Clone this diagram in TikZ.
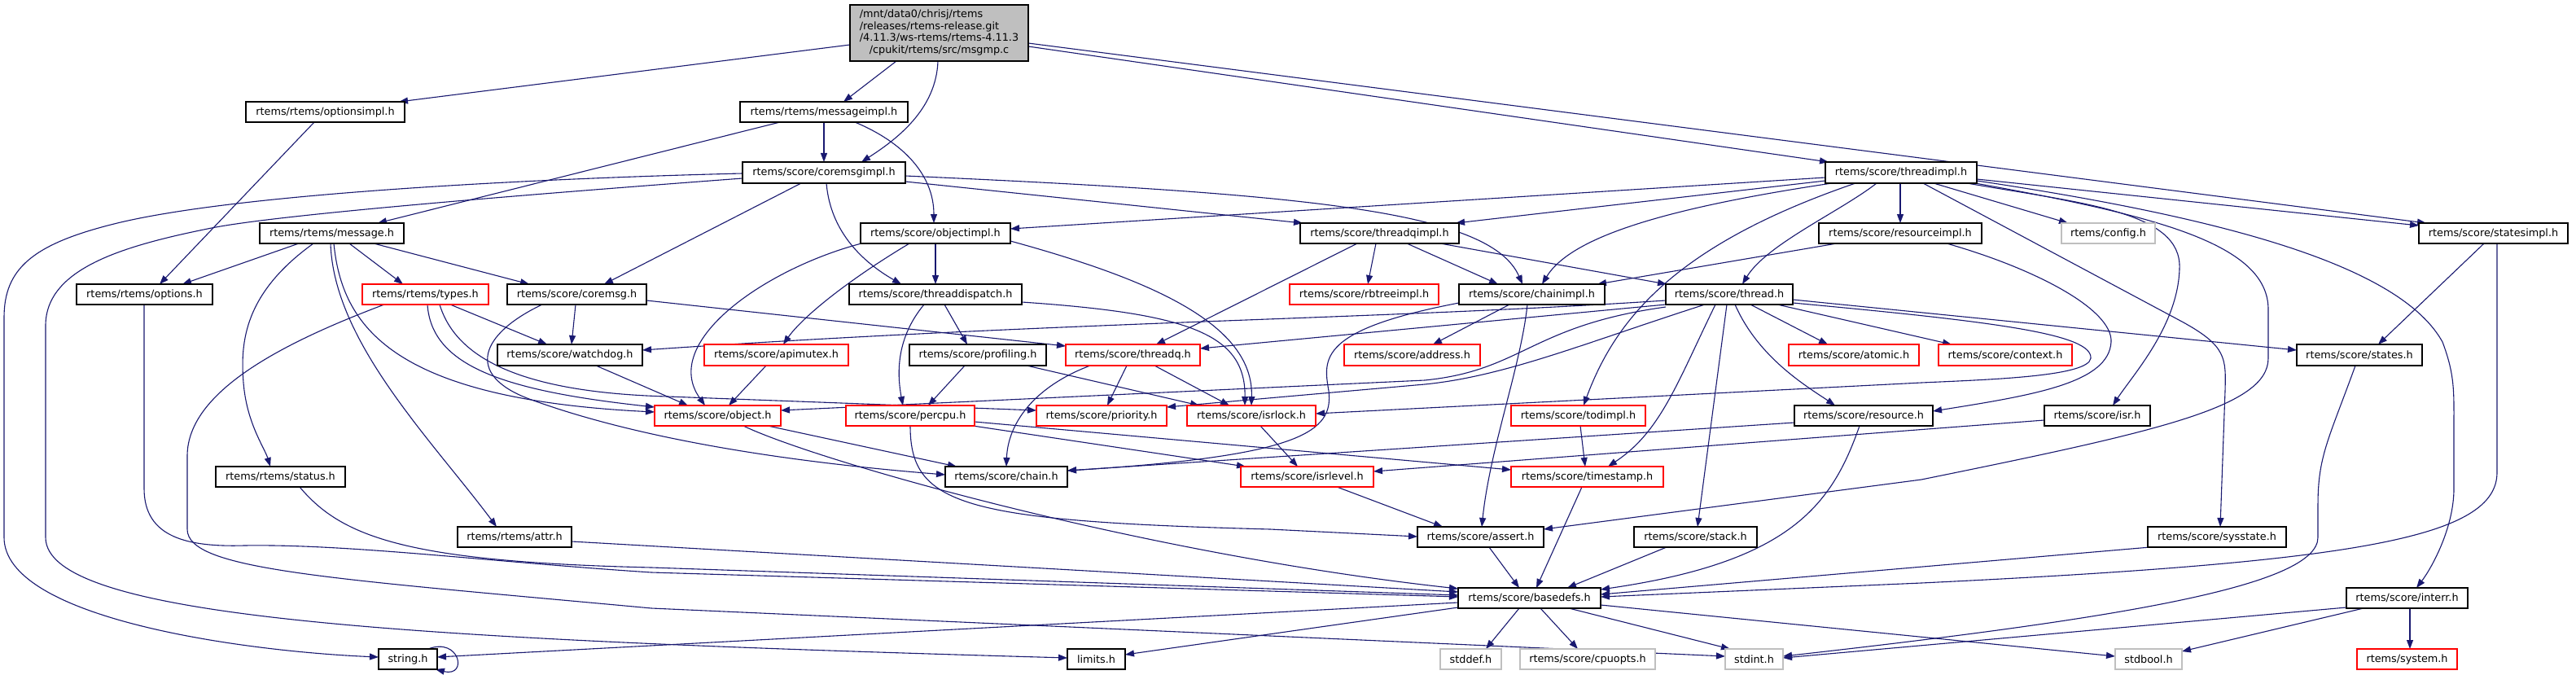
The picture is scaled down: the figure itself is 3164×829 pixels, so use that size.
\documentclass[tikz,border=0pt]{standalone}
\usepackage{fontspec}
\setmainfont{DejaVu Sans}
\usetikzlibrary{arrows.meta}
\definecolor{eb}{HTML}{191970}
\definecolor{redb}{HTML}{FF0000}
\definecolor{grayb}{HTML}{BFBFBF}
\definecolor{rootgray}{HTML}{BFBFBF}
\pgfdeclarelayer{bg}
\pgfsetlayers{bg,main}
\newcommand\ft{\fontsize{12.8pt}{14.7pt}\selectfont}
\tikzset{
  nd/.style={draw=black,line width=1.3pt,fill=white,inner sep=0pt,outer sep=0pt,font=\ft,text=black},
  rn/.style={nd,draw=redb},
  gn/.style={nd,draw=grayb},
  e/.style={draw=eb,line width=1.1pt,-{Triangle[length=11pt,width=8pt]}},
}
\newcommand\mknode[7][nd]{\node[#1,minimum width={(#4-#3)*1pt},minimum height={(#6-#5)*1pt}] (#2) at ({(#3+#4)/2},{(#5+#6)/2}) {#7};}
\begin{document}
\begin{tikzpicture}[x=1pt,y=-1pt]
\begin{pgfonlayer}{bg}
\fill[white] (0,0) rectangle (3164,829);
\end{pgfonlayer}
\useasboundingbox (0,0) rectangle (3164,829);
% row 0
\node[nd,fill=rootgray,minimum width=219pt,minimum height=69pt] (root) at (1153.5,40.5)
  {\begin{tabular}{@{}l@{}}/mnt/data0/chrisj/rtems\\/releases/rtems-release.git\\/4.11.3/ws-rtems/rtems-4.11.3\\\multicolumn{1}{@{}c@{}}{/cpukit/rtems/src/msgmp.c}\end{tabular}};
% row 1
\mknode{optimpl}{302}{497}{125}{150}{rtems/rtems/optionsimpl.h}
\mknode{msgimpl}{909}{1115}{125}{150}{rtems/rtems/messageimpl.h}
% row 2
\mknode{cmimpl}{912}{1112}{199}{225}{rtems/score/coremsgimpl.h}
\mknode{thimpl}{2242}{2428}{199}{225}{rtems/score/threadimpl.h}
% row 3
\mknode{msg}{319}{496}{274}{299}{rtems/rtems/message.h}
\mknode{objimpl}{1057}{1241}{274}{299}{rtems/score/objectimpl.h}
\mknode{tqimpl}{1597}{1792}{274}{299}{rtems/score/threadqimpl.h}
\mknode{resimpl}{2234}{2434}{274}{299}{rtems/score/resourceimpl.h}
\mknode[gn]{config}{2532}{2647}{274}{299}{rtems/config.h}
\mknode{stimpl}{2971}{3154}{274}{299}{rtems/score/statesimpl.h}
% row 4
\mknode{options}{94}{261}{349}{374}{rtems/rtems/options.h}
\mknode[rn]{types}{445}{600}{349}{374}{rtems/rtems/types.h}
\mknode{coremsg}{623}{794}{349}{374}{rtems/score/coremsg.h}
\mknode{tdisp}{1043}{1255}{349}{374}{rtems/score/threaddispatch.h}
\mknode[rn]{rbtree}{1584}{1767}{349}{374}{rtems/score/rbtreeimpl.h}
\mknode{chimpl}{1792}{1971}{349}{374}{rtems/score/chainimpl.h}
\mknode{thread}{2046}{2202}{349}{374}{rtems/score/thread.h}
% row 5
\mknode{watchdog}{611}{789}{423}{449}{rtems/score/watchdog.h}
\mknode[rn]{apimutex}{865}{1042}{423}{449}{rtems/score/apimutex.h}
\mknode{profiling}{1117}{1285}{423}{449}{rtems/score/profiling.h}
\mknode[rn]{threadq}{1309}{1474}{423}{449}{rtems/score/threadq.h}
\mknode[rn]{address}{1651}{1818}{423}{449}{rtems/score/address.h}
\mknode[rn]{atomic}{2197}{2357}{423}{449}{rtems/score/atomic.h}
\mknode[rn]{context}{2381}{2545}{423}{449}{rtems/score/context.h}
\mknode{states}{2821}{2975}{423}{449}{rtems/score/states.h}
% row 6
\mknode[rn]{object}{804}{959}{498}{523}{rtems/score/object.h}
\mknode[rn]{percpu}{1039}{1197}{498}{523}{rtems/score/percpu.h}
\mknode[rn]{priority}{1273}{1433}{498}{523}{rtems/score/priority.h}
\mknode[rn]{isrlock}{1458}{1616}{498}{523}{rtems/score/isrlock.h}
\mknode[rn]{todimpl}{1856}{2021}{498}{523}{rtems/score/todimpl.h}
\mknode{resource}{2204}{2374}{498}{523}{rtems/score/resource.h}
\mknode{isr}{2511}{2641}{498}{523}{rtems/score/isr.h}
% row 7
\mknode{status}{265}{424}{573}{598}{rtems/rtems/status.h}
\mknode{chain}{1161}{1311}{573}{598}{rtems/score/chain.h}
\mknode[rn]{isrlevel}{1524}{1687}{573}{598}{rtems/score/isrlevel.h}
\mknode[rn]{timestamp}{1856}{2043}{573}{598}{rtems/score/timestamp.h}
% row 8
\mknode{attr}{562}{702}{647}{672}{rtems/rtems/attr.h}
\mknode{assert}{1741}{1896}{647}{672}{rtems/score/assert.h}
\mknode{stack}{2007}{2158}{647}{672}{rtems/score/stack.h}
\mknode{sysstate}{2638}{2808}{647}{672}{rtems/score/sysstate.h}
% row 9
\mknode{basedefs}{1791}{1966}{722}{747}{rtems/score/basedefs.h}
\mknode{interr}{2882}{3031}{722}{747}{rtems/score/interr.h}
% row 10
\mknode{string}{465}{537}{797}{822}{string.h}
\mknode{limits}{1311}{1382}{797}{822}{limits.h}
\mknode[gn]{stddef}{1769}{1844}{797}{822}{stddef.h}
\mknode[gn]{cpuopts}{1867}{2033}{797}{822}{rtems/score/cpuopts.h}
\mknode[gn]{stdint}{2119}{2190}{797}{822}{stdint.h}
\mknode[gn]{stdbool}{2598}{2680}{797}{822}{stdbool.h}
\mknode[rn]{system}{2895}{3018}{797}{822}{rtems/system.h}

\begin{pgfonlayer}{bg}
% root
\draw[e] (root.west |- 0,55) -- (optimpl.north -| 490,0);
\draw[e] (root.south -| 1101,0) -- (msgimpl.north -| 1036,0);
\draw[e] (root.south -| 1152,0) .. controls (1150,135) and (1100,172) .. (cmimpl.north -| 1058,0);
\draw[e] (root.east |- 0,57) -- (thimpl.north -| 2246,0);
\draw[e] (root.east |- 0,53) -- (stimpl.north -| 2980,0);
\draw[e] (thimpl.east |- 0,220) -- (stimpl.west |- 0,277);
% messageimpl, optionsimpl
\draw[e] (msgimpl.south -| 958,0) -- (msg.north -| 464,0);
\draw[e] (msgimpl.south -| 1012,0) -- (cmimpl.north -| 1012,0);
\draw[e] (msgimpl.south -| 1050,0) .. controls (1110,175) and (1147,215) .. (objimpl.north -| 1147,0);
\draw[e] (optimpl.south -| 386,0) -- (options.north -| 196,0);
% coremsgimpl
\draw[e] (cmimpl.west |- 0,213) .. controls (700,218) and (300,235) .. (140,275) .. controls (40,300) and (5,330) .. (5,390) -- (5,660) .. controls (5,760) and (300,800) .. (string.west |- 0,807);
\draw[e] (cmimpl.west |- 0,219) .. controls (700,235) and (350,262) .. (260,280) .. controls (150,302) and (56,330) .. (56,400) -- (56,660) .. controls (56,760) and (500,785) .. (limits.west |- 0,808);
\draw[e] (cmimpl.south -| 984,0) -- (coremsg.north -| 742,0);
\draw[e] (cmimpl.south -| 1015,0) .. controls (1020,285) and (1060,322) .. (tdisp.north -| 1107,0);
\draw[e] (cmimpl.east |- 0,223) -- (tqimpl.north -| 1600,0);
\draw[e] (cmimpl.east |- 0,216) .. controls (1600,238) and (1830,258) .. (chimpl.north -| 1870,0);
% threadimpl
\draw[e] (thimpl.west |- 0,218) -- (objimpl.east |- 0,281);
\draw[e] (thimpl.west |- 0,222) -- (tqimpl.north -| 1788,0);
\draw[e] (thimpl.south -| 2250,0) .. controls (2050,255) and (1930,290) .. (chimpl.north -| 1894,0);
\draw[e] (thimpl.south -| 2279,0) .. controls (2060,300) and (1985,390) .. (todimpl.north -| 1945,0);
\draw[e] (thimpl.south -| 2305,0) .. controls (2260,260) and (2170,300) .. (thread.north -| 2140,0);
\draw[e] (thimpl.south -| 2334,0) -- (resimpl.north -| 2334,0);
\draw[e] (thimpl.south -| 2375,0) -- (config.north -| 2540,0);
\draw[e] (thimpl.south -| 2416,0) .. controls (2560,250) and (2680,260) .. (2677,330) .. controls (2675,400) and (2620,460) .. (isr.north -| 2595,0);
\draw[e] (thimpl.south -| 2362,0) -- (2680,395) .. controls (2735,425) and (2734,440) .. (2733,480) -- (sysstate.north -| 2727,0);
\draw[e] (thimpl.south -| 2426,0) .. controls (2650,265) and (2786,300) .. (2786,380) -- (2786,440) .. controls (2786,500) and (2650,530) .. (2360,589) -- (assert.east |- 0,650);
\draw[e] (thimpl.east |- 0,222) .. controls (2750,270) and (2950,330) .. (3000,420) .. controls (3015,460) and (3014,480) .. (3014,520) -- (3014,600) .. controls (3014,650) and (2985,700) .. (interr.north -| 2968,0);
% resourceimpl, statesimpl, states, interr
\draw[e] (resimpl.south -| 2391,0) .. controls (2500,330) and (2595,380) .. (2593,420) .. controls (2590,470) and (2500,485) .. (resource.east |- 0,505);
\draw[e] (resimpl.south -| 2256,0) -- (chimpl.north -| 1962,0);
\draw[e] (stimpl.south -| 3051,0) -- (states.north -| 2921,0);
\draw[e] (stimpl.south -| 3067,0) -- (3067,580) .. controls (3067,660) and (2900,690) .. (2360,716) -- (basedefs.east |- 0,733);
\draw[e] (states.south -| 2893,0) .. controls (2860,540) and (2847,560) .. (2847,620) -- (2847,660) .. controls (2847,720) and (2600,760) .. (stdint.east |- 0,806);
\draw[e] (interr.south -| 2903,0) -- (stdbool.east |- 0,800);
\draw[e] (interr.south -| 2960,0) -- (system.north -| 2960,0);
\draw[e] (interr.west |- 0,746) -- (stdint.east |- 0,808);
% basedefs
\draw[e] (basedefs.east |- 0,743) -- (stdbool.west |- 0,806);
\draw[e] (basedefs.south -| 1927,0) -- (stdint.north -| 2125,0);
\draw[e] (basedefs.south -| 1892,0) -- (cpuopts.north -| 1938,0);
\draw[e] (basedefs.south -| 1866,0) -- (stddef.north -| 1825,0);
\draw[e] (basedefs.west |- 0,746) -- (limits.east |- 0,804);
\draw[e] (basedefs.west |- 0,740) -- (string.east |- 0,807);
\draw[e] (string.north -| 526,0) .. controls (565,782) and (575,832) .. (string.south -| 535,0);
% into basedefs
\draw[e] (timestamp.south -| 1943,0) -- (basedefs.north -| 1887,0);
\draw[e] (assert.south -| 1829,0) -- (basedefs.north -| 1866,0);
\draw[e] (stack.south -| 2047,0) -- (basedefs.north -| 1925,0);
\draw[e] (resource.south -| 2284,0) .. controls (2250,620) and (2200,690) .. (basedefs.east |- 0,724);
\draw[e] (sysstate.south -| 2641,0) -- (basedefs.east |- 0,730);
% resource, isr, todimpl
\draw[e] (resource.west |- 0,519) -- (chain.east |- 0,578);
\draw[e] (isr.west |- 0,516) -- (isrlevel.east |- 0,579);
\draw[e] (todimpl.south -| 1941,0) -- (timestamp.north -| 1947,0);
% thread.h
\draw[e] (thread.south -| 2107,0) .. controls (2060,470) and (2040,530) .. (timestamp.north -| 1975,0);
\draw[e] (thread.south -| 2121,0) -- (stack.north -| 2085,0);
\draw[e] (thread.south -| 2131,0) .. controls (2160,440) and (2220,475) .. (resource.north -| 2254,0);
\draw[e] (thread.south -| 2150,0) -- (atomic.north -| 2245,0);
\draw[e] (thread.south -| 2183,0) -- (context.north -| 2397,0);
\draw[e] (thread.east |- 0,368) -- (states.west |- 0,430);
\draw[e] (thread.east |- 0,372) .. controls (2450,395) and (2570,410) .. (2568,440) .. controls (2565,462) and (2450,466) .. (2360,470) -- (isrlock.east |- 0,508);
\draw[e] (thread.west |- 0,369) .. controls (1700,392) and (1300,395) .. (watchdog.east |- 0,430);
\draw[e] (thread.west |- 0,374) -- (threadq.east |- 0,428);
\draw[e] (thread.west |- 0,377) .. controls (1880,400) and (1870,455) .. (1750,467) -- (object.east |- 0,504);
\draw[e] (thread.south -| 2094,0) .. controls (1950,420) and (1850,462) .. (1750,472) -- (priority.east |- 0,500);
% chainimpl
\draw[e] (chimpl.west |- 0,372) .. controls (1620,405) and (1625,440) .. (1632,480) .. controls (1638,530) and (1600,560) .. (chain.east |- 0,578);
\draw[e] (chimpl.south -| 1854,0) -- (address.north -| 1760,0);
\draw[e] (chimpl.south -| 1876,0) .. controls (1868,450) and (1830,550) .. (assert.north -| 1820,0);
% threadqimpl
\draw[e] (tqimpl.south -| 1667,0) -- (threadq.north -| 1420,0);
\draw[e] (tqimpl.south -| 1690,0) -- (rbtree.north -| 1680,0);
\draw[e] (tqimpl.south -| 1728,0) -- (chimpl.north -| 1840,0);
\draw[e] (tqimpl.south -| 1769,0) -- (thread.north -| 2047,0);
% objectimpl
\draw[e] (objimpl.south -| 1058,0) .. controls (940,330) and (810,420) .. (object.north -| 866,0);
\draw[e] (objimpl.south -| 1117,0) .. controls (1040,345) and (985,390) .. (apimutex.north -| 962,0);
\draw[e] (objimpl.south -| 1149,0) -- (tdisp.north -| 1149,0);
\draw[e] (objimpl.east |- 0,296) .. controls (1420,345) and (1540,400) .. (isrlock.north -| 1537,0);
% threaddispatch, profiling
\draw[e] (tdisp.south -| 1160,0) -- (profiling.north -| 1188,0);
\draw[e] (tdisp.south -| 1135,0) .. controls (1105,410) and (1100,450) .. (percpu.north -| 1109,0);
\draw[e] (tdisp.east |- 0,371) .. controls (1460,385) and (1530,410) .. (isrlock.north -| 1529,0);
\draw[e] (profiling.south -| 1185,0) -- (percpu.north -| 1140,0);
\draw[e] (profiling.south -| 1261,0) -- (isrlock.north -| 1473,0);
% threadq
\draw[e] (threadq.south -| 1339,0) .. controls (1270,475) and (1238,520) .. (chain.north -| 1236,0);
\draw[e] (threadq.south -| 1384,0) -- (priority.north -| 1360,0);
\draw[e] (threadq.south -| 1418,0) -- (isrlock.north -| 1510,0);
% percpu, isrlock, isrlevel
\draw[e] (percpu.south -| 1118,0) .. controls (1118,620) and (1180,640) .. (1560,650) -- (assert.west |- 0,659);
\draw[e] (percpu.south -| 1195,0) -- (isrlevel.north -| 1530,0);
\draw[e] (percpu.east |- 0,518) -- (timestamp.west |- 0,577);
\draw[e] (isrlock.south -| 1548,0) -- (isrlevel.north -| 1594,0);
\draw[e] (isrlevel.south -| 1642,0) -- (assert.north -| 1772,0);
% object, apimutex, watchdog, coremsg
\draw[e] (object.south -| 943,0) -- (chain.north -| 1175,0);
\draw[e] (object.south -| 913,0) .. controls (1000,565) and (1400,680) .. (basedefs.west |- 0,723);
\draw[e] (apimutex.south -| 941,0) -- (object.north -| 895,0);
\draw[e] (watchdog.south -| 732,0) -- (object.north -| 845,0);
\draw[e] (coremsg.south -| 707,0) -- (watchdog.north -| 702,0);
\draw[e] (coremsg.east |- 0,369) -- (threadq.west |- 0,425);
\draw[e] (coremsg.south -| 666,0) .. controls (590,410) and (570,460) .. (650,490) .. controls (800,545) and (1000,570) .. (chain.west |- 0,583);
% types
\draw[e] (types.south -| 553,0) -- (watchdog.north -| 672,0);
\draw[e] (types.south -| 525,0) .. controls (530,450) and (620,480) .. (object.west |- 0,500);
\draw[e] (types.south -| 540,0) .. controls (560,440) and (640,482) .. (820,487) -- (priority.west |- 0,504);
\draw[e] (types.south -| 472,0) .. controls (350,420) and (230,480) .. (230,560) -- (230,650) .. controls (230,700) and (400,710) .. (800,747) -- (stdint.west |- 0,806);
% message
\draw[e] (msg.south -| 410,0) .. controls (420,400) and (480,490) .. (object.west |- 0,506);
\draw[e] (msg.south -| 406,0) .. controls (410,420) and (530,540) .. (attr.north -| 610,0);
\draw[e] (msg.south -| 385,0) .. controls (300,360) and (295,420) .. (299,470) .. controls (303,520) and (325,550) .. (status.north -| 332,0);
\draw[e] (msg.south -| 367,0) -- (options.north -| 224,0);
\draw[e] (msg.south -| 429,0) -- (types.north -| 495,0);
\draw[e] (msg.south -| 459,0) -- (coremsg.north -| 650,0);
% options, status, attr
\draw[e] (options.south -| 177,0) -- (177,600) .. controls (177,660) and (230,672) .. (300,670) .. controls (430,668) and (600,690) .. (800,703) -- (basedefs.west |- 0,733);
\draw[e] (status.south -| 368,0) .. controls (420,660) and (500,690) .. (800,697) -- (basedefs.west |- 0,731);
\draw[e] (attr.east |- 0,665) -- (basedefs.west |- 0,727);
\end{pgfonlayer}
\end{tikzpicture}
\end{document}
